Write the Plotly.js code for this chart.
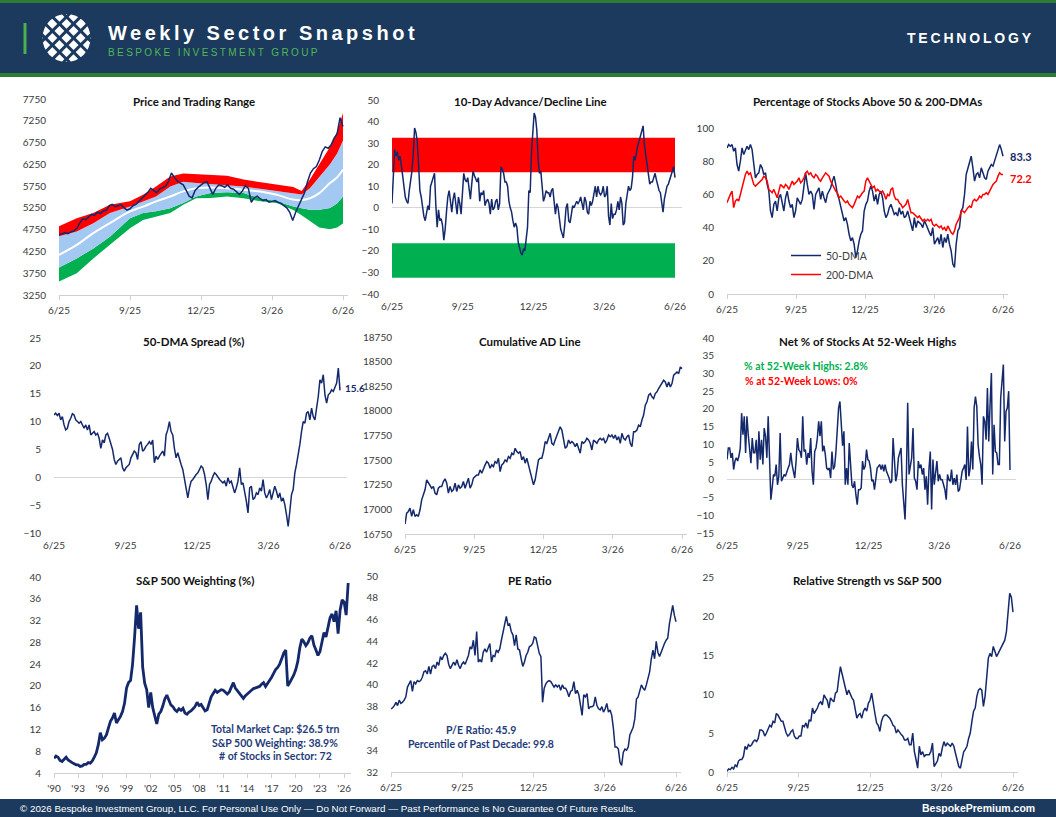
<!DOCTYPE html>
<html><head><meta charset="utf-8">
<script src="https://cdn.plot.ly/plotly-3.0.1.min.js"></script>
<style>html,body{margin:0;padding:0;background:#fff;}#chart{width:1056px;height:817px;}</style>
</head><body><div id="chart"></div>
<script>
// ---------------- DATA ----------------
const monthTicks = [0, 3, 6, 9, 12];
const monthLabels = ['6/25', '9/25', '12/25', '3/26', '6/26'];
const yearTicks = [1990,1993,1996,1999,2002,2005,2008,2011,2014,2017,2020,2023,2026];
const yearLabels = ["'90","'93","'96","'99","'02","'05","'08","'11","'14","'17","'20","'23","'26"];

// Price and trading range
const priceVals = [4630,4650,4680,4660,4700,4720,4780,4900,5000,4980,5050,5100,5080,5150,5120,5180,5200,5300,5330,5280,5300,5320,5250,5200,5230,5300,5330,5400,5450,5520,5600,5700,5650,5600,5680,5720,5750,5850,6050,5950,5870,5820,5780,5650,5520,5480,5650,5720,5780,5830,5850,5700,5560,5700,5780,5760,5720,5780,5700,5680,5620,5560,5640,5760,5700,5380,5480,5520,5460,5420,5440,5380,5400,5420,5380,5360,5300,5250,5150,4960,5150,5300,5450,5600,5850,6050,6150,6200,6350,6550,6650,6620,6700,6850,6950,7320,7120];
const bandMonths = [0,0.75,1.45,2.15,3.0,3.55,4.1,4.7,5.25,5.8,6.4,7.1,7.8,8.5,9.2,9.9,10.25,10.6,11.0,11.45,11.75,12];
const upper2 = [4830,5010,5130,5320,5400,5550,5740,5970,6040,6030,6010,5990,5900,5840,5780,5730,5640,5900,6250,6650,7000,7430];
const upper1 = [4600,4710,4900,5130,5280,5400,5510,5740,5850,5820,5800,5780,5740,5690,5640,5590,5560,5700,5950,6250,6500,6800];
const movAvg = [4170,4400,4670,4900,5170,5280,5400,5510,5630,5700,5720,5700,5665,5625,5550,5440,5430,5470,5590,5820,5950,6130];
const lower1 = [3880,4090,4320,4590,5010,5130,5170,5240,5360,5510,5590,5610,5590,5470,5400,5280,5240,5205,5205,5245,5350,5510];
const lower2 = [3560,3750,4090,4400,4780,4970,5050,5130,5320,5470,5475,5510,5470,5400,5360,5200,5080,4950,4800,4760,4800,4890];

// 10-day A/D line
const adZones = [-32.5, -16.5, 16.5, 32.5];
const adVals = [2,15,27,24,26,22,24,20,14,8,5,3,2,8,13,17,25,37,35,31,20,8,5,-1,-4,-6,-2,1,-1,10,12,14,16,1,-9,-1,-6,-5,-8,-15,-10,-2,5,8,3,-2,4,7,2,-3,5,2,-3,8,16,13,12,14,8,4,11,17,15,13,12,14,3,7,6,8,1,3,4,2,-3,4,-1,0,3,4,-1,2,19,18,16,12,12,10,3,0,-2,-6,-9,-7,-9,-16,-19,-21,-22,-19,-20,-14,-9,8,7,26,35,44,42,36,22,16,17,10,3,5,8,7,7,5,8,9,2,-3,2,0,-5,-10,-12,-14,-8,0,2,-6,-7,-2,1,0,2,3,2,3,5,2,-1,5,3,-2,-3,3,1,3,6,10,5,10,7,6,7,10,5,6,10,-4,-8,2,-5,-3,-3,-1,3,-1,5,2,-8,-7,2,7,10,8,9,14,24,22,26,29,31,33,35,38,29,25,20,15,11,12,12,14,16,13,10,8,7,2,-2,4,7,10,11,13,15,17,19,14];

// % of stocks above 50 & 200 DMA
const pct50 = [88,90,89,90,86,88,78,74,80,88,84,86,89,87,90,87,78,70,72,73,78,76,72,73,66,62,50,46,54,56,50,58,60,54,50,58,62,56,52,54,46,50,58,56,54,57,66,73,66,60,62,60,51,60,62,64,57,62,58,55,60,62,64,68,71,66,60,57,52,48,44,46,42,36,32,34,30,22,26,32,36,38,50,54,56,62,65,62,56,60,54,60,62,58,50,46,48,52,54,51,48,49,47,52,48,50,46,47,50,46,42,38,46,40,44,43,42,40,44,42,39,37,35,40,30,32,34,30,36,28,34,31,36,30,26,18,16,30,38,40,50,52,60,72,76,80,83,76,68,72,73,70,76,73,70,69,74,76,78,77,80,84,87,90,87,83];
const pct200 = [55,58,60,62,52,56,57,56,60,64,68,72,74,72,73,70,66,65,66,67,68,69,71,70,68,63,62,61,63,60,58,62,66,65,64,66,65,63,66,68,66,67,68,70,67,68,70,73,74,72,73,71,70,72,71,69,68,70,72,73,72,71,68,66,64,62,61,58,59,57,56,55,56,54,53,52,54,57,59,58,60,61,62,68,70,68,66,64,65,62,63,62,61,62,60,57,60,59,63,64,59,57,57,55,54,52,53,54,57,53,49,49,48,47,46,47,45,44,45,44,45,44,45,42,41,42,41,40,41,39,40,38,41,39,37,36,38,42,44,46,50,50,49,51,52,53,52,56,57,56,57,59,58,60,60,61,60,62,64,66,67,68,71,73,72,72];
const pct50Last = '83.3', pct200Last = '72.2';

// 50-DMA spread
const spreadVals = [11.2,11.5,11.1,11.5,10.3,10.9,9.4,8.5,8.8,10.0,10.6,11.4,11.2,10.3,10.0,9.7,10.0,9.4,8.8,9.4,8.5,9.4,7.6,7.9,8.2,7.6,7.9,7.0,5.2,6.7,6.2,7.6,7.9,7.0,5.9,5.0,3.2,2.3,2.9,3.2,3.5,1.7,1.1,1.7,2.0,2.3,3.5,4.1,4.7,4.4,3.2,5.9,6.4,4.7,5.0,5.6,5.9,6.4,5.9,6.7,2.6,3.8,3.2,3.8,4.4,4.7,3.8,7.6,8.5,10.0,8.2,7.6,5.2,3.5,4.4,3.2,2.3,1.4,-0.1,-1.9,-3.7,-1.9,-0.7,-0.4,0.2,0.5,0.8,1.4,2.0,1.7,0.5,-1.3,-4.0,-1.3,-0.7,0.2,0.8,0.5,-0.1,-0.4,-0.7,-1.0,-0.7,-1.6,-0.1,-1.0,-0.7,-1.6,-2.8,-1.9,-0.7,1.7,-1.3,-1.0,-2.5,-4.3,-6.4,-1.9,-1.6,-4.0,-3.7,-2.8,-3.1,-1.9,-2.5,-0.4,-2.8,-3.7,-3.1,-2.2,-4.0,-2.5,-1.6,-2.5,-3.7,-2.8,-4.3,-3.7,-4.9,-6.7,-8.8,-6.1,-3.1,-2.2,0.8,2.3,3.8,5.9,8.2,10.0,9.7,11.5,11.8,10.3,12.4,10.9,10.3,12.1,14.5,17.5,16.9,18.4,14.8,13.3,14.8,15.1,15.7,15.4,16.0,16.9,19.6,15.6];
const spreadLast = '15.6';

// Cumulative AD line
const cumAdVals = [16851,16962,16979,17013,16929,16996,16929,16946,16929,16996,17097,17148,17199,17300,17266,17249,17215,17232,17165,17148,17215,17232,17232,17283,17310,17266,17165,17232,17182,17199,17266,17182,17249,17215,17232,17283,17215,17266,17317,17215,17249,17317,17333,17350,17350,17401,17367,17418,17452,17485,17469,17418,17452,17435,17485,17469,17519,17384,17452,17469,17502,17485,17536,17519,17570,17553,17620,17587,17570,17587,17502,17536,17469,17519,17452,17384,17317,17249,17300,17384,17502,17519,17519,17587,17688,17671,17721,17772,17671,17654,17704,17755,17789,17839,17805,17721,17620,17637,17704,17671,17688,17671,17637,17671,17620,17570,17688,17671,17688,17721,17704,17671,17603,17704,17688,17671,17704,17721,17704,17721,17671,17704,17755,17738,17755,17721,17755,17704,17738,17671,17772,17721,17704,17738,17755,17671,17637,17789,17789,17805,17856,17839,17907,17957,18058,18092,18159,18176,18142,18125,18176,18193,18227,18260,18294,18311,18294,18243,18294,18243,18277,18362,18378,18395,18378,18446,18429];

// Net % of stocks at 52-week highs
const netHighVals = [5.7,9.0,9.0,6.2,7.6,2.9,5.3,6.2,5.3,6.7,9.0,18.8,12.7,17.9,7.6,17.9,12.7,8.0,4.7,11.8,7.6,7.6,11.3,2.9,13.7,5.7,11.3,4.3,14.6,12.3,6.2,17.9,4.7,-5.6,-2.3,1.5,1.0,4.3,-1.4,1.0,13.2,-0.4,0.5,1.5,1.0,2.4,3.3,4.3,7.6,4.3,1.9,0.5,5.3,11.8,8.5,8.0,6.2,17.9,8.0,8.5,4.3,7.6,6.2,11.8,2.4,-1.4,8.0,9.0,11.8,16.5,12.3,16.5,8.0,9.6,7.1,3.3,2.9,3.3,0.5,8.0,2.9,3.8,8.0,15.5,20.3,22.1,13.7,9.6,13.7,-1.4,3.3,-1.4,10.4,4.3,-1.4,-2.3,-0.4,-4.2,-7.0,-2.8,-2.8,-2.3,5.3,2.9,3.8,8.5,5.7,5.3,3.3,-0.4,0.0,-2.8,0.0,3.3,3.8,4.3,2.9,4.3,2.4,4.3,2.4,1.5,0.5,-0.9,-0.4,11.8,6.2,-0.4,1.5,6.2,7.6,9.0,-1.4,-6.1,-11.2,0.5,21.7,1.5,4.3,6.2,14.6,0.5,-0.4,-2.8,5.3,3.3,4.3,1.5,3.3,-2.8,1.0,-7.0,2.9,8.0,-8.4,5.7,-1.4,2.4,5.3,-0.4,1.5,0.0,0.0,-1.4,-2.8,-5.6,1.5,0.0,-0.4,2.9,-1.4,0.5,-1.4,1.5,-3.3,-2.8,-0.4,2.4,3.3,4.3,0.0,15.0,1.0,3.3,10.8,2.9,20.3,23.5,20.7,9.9,6.6,4.3,-1.4,17.9,16.5,11.3,25.9,10.8,21.2,30.1,1.5,15.5,8.0,7.6,4.3,4.3,23.1,26.8,32.5,10.8,19.3,20.3,25.0,2.8];
const pctHighs = '2.8%', pctLows = '0%';

// S&P 500 weighting, quarterly from 1990
const weightStartYear = 1990;
const weightVals = [6.7,7.1,6.9,6.3,6.1,6.6,6.9,6.4,6.1,5.9,5.7,5.5,5.5,5.2,5.3,5.6,5.6,5.9,5.8,6.2,6.9,7.7,9.2,11.4,10.1,10.4,11.0,12.2,13.5,14.1,15.0,13.2,13.8,14.4,15.3,16.8,19.6,20.6,21.0,24.0,29.0,34.8,30.5,33.5,23.5,20.5,19.3,16.0,18.8,16.0,14.5,13.0,14.8,15.3,16.3,17.6,18.3,17.2,16.5,16.2,15.6,15.3,15.8,15.5,15.9,15.0,14.8,15.2,15.4,15.8,16.2,17.0,16.4,16.6,16.0,15.4,15.6,16.8,18.0,18.6,19.2,18.8,19.0,19.3,19.2,18.9,18.5,18.9,19.8,20.6,19.6,19.1,18.6,18.0,17.7,18.2,18.6,18.8,19.2,19.5,19.6,19.8,19.9,20.3,20.6,19.9,20.4,21.0,21.6,22.3,23.0,23.4,24.0,25.0,26.0,26.6,20.0,20.6,21.2,22.0,23.0,24.5,27.0,28.6,28.1,27.4,27.9,28.8,29.2,27.5,26.6,25.6,26.3,27.9,29.8,29.0,31.0,32.5,33.2,31.8,33.8,29.6,33.9,35.8,35.4,33.0,38.9];
const sectorStats = ['Total Market Cap: $26.5 trn', 'S&amp;P 500 Weighting: 38.9%', '# of Stocks in Sector: 72'];

// PE ratio
const peVals = [37.8,37.9,38.1,38.4,38.1,38.6,38.3,38.4,38.6,38.9,39.8,40.1,40.4,39.4,40.3,40.1,40.4,40.3,40.4,40.7,41.2,41.3,41.0,41.7,41.0,41.7,41.8,41.5,42.1,41.8,42.6,42.3,42.7,42.9,42.7,41.9,41.5,41.8,42.1,41.8,42.3,41.8,41.5,41.9,42.1,41.9,42.3,42.7,43.5,43.3,44.1,42.7,44.9,42.1,42.3,42.1,43.0,43.3,43.0,43.5,43.8,42.1,42.7,42.6,43.2,43.0,43.3,44.1,44.9,45.6,46.3,45.5,45.6,44.9,44.6,43.6,44.6,43.3,43.2,42.4,41.7,42.1,42.7,43.0,43.5,43.6,43.8,44.4,44.3,43.6,42.9,42.6,38.4,39.7,40.1,40.3,40.4,40.3,40.1,39.8,40.0,39.8,40.0,39.5,40.0,39.7,39.7,39.4,38.9,39.4,39.5,40.3,39.2,39.5,39.1,38.1,37.2,39.1,38.9,39.2,37.8,38.0,38.0,38.1,38.9,38.1,37.8,37.7,38.0,37.5,37.8,38.3,37.5,37.7,37.2,36.0,34.3,34.3,34.1,32.9,32.6,33.8,34.1,34.0,34.3,35.4,35.7,36.1,36.9,38.7,38.9,39.4,40.0,39.7,39.5,40.0,40.6,41.2,42.4,43.2,42.4,44.0,43.0,42.6,43.0,43.5,43.8,44.1,44.3,45.6,46.3,47.3,46.4,45.8];
const peStats = ['P/E Ratio: 45.9', 'Percentile of Past Decade: 99.8'];

// Relative strength vs S&P 500
const rsVals = [0.1,0.4,0.3,0.6,0.4,0.9,0.7,1.4,1.6,1.6,2.0,3.3,2.9,3.5,3.3,3.5,3.9,4.1,3.9,4.3,5.4,5.4,5.2,4.6,5.0,5.6,6.0,5.8,6.5,6.3,7.5,7.3,6.9,6.5,6.5,5.6,5.0,4.6,4.8,5.2,5.4,4.6,4.3,4.3,4.6,4.6,6.0,5.8,6.3,5.6,6.7,6.5,8.2,7.5,7.8,8.2,8.8,9.0,8.6,9.9,9.5,9.2,8.2,9.5,9.2,9.0,10.1,10.3,12.0,13.5,12.6,11.6,10.5,9.9,10.5,9.9,9.5,9.2,8.0,6.9,7.3,7.5,6.9,7.8,8.2,7.8,8.8,9.2,10.1,9.0,7.5,6.3,6.0,5.2,6.5,7.1,7.3,7.3,7.1,6.9,6.5,6.0,5.8,5.0,5.4,5.0,4.8,4.6,4.1,4.1,4.3,3.5,3.5,5.0,2.6,1.6,0.5,3.3,2.2,2.6,2.0,2.2,2.2,2.2,2.6,3.7,0.7,1.1,1.4,2.4,2.0,3.1,3.9,3.3,3.7,3.5,3.3,3.7,3.3,2.4,1.6,0.7,0.5,1.8,2.6,2.9,3.3,4.3,5.0,6.5,7.8,8.2,9.7,10.5,10.7,10.5,8.4,9.7,12.6,14.6,15.2,14.8,16.1,15.4,14.8,15.2,15.6,16.1,16.5,16.9,18.0,20.1,22.9,22.4,20.5];

// ---------------- LAYOUT HELPERS ----------------
const W = 1056, H = 817;
const px = x => x / W, py = y => 1 - y / H;
const NAVY = '#14296b', RED = '#ff0000', GREEN = '#00b050', LBLUE = '#a3c8f2';
const HEADER = '#1b3a5e', HGREEN = '#2f7d34';
const FONT = 'Lato, "Open Sans", sans-serif';
const tickFont = {family: FONT, size: 10, color: '#3a3a3a'};
const monthPos = n => Array.from({length: n}, (_, i) => i * 12 / (n - 1));

function xTime(p0, p12, r1, withLine) {
  const s = (p12 - p0) / 12;
  return {
    domain: [px(p0), px(p0 + r1 * s)], range: [0, r1],
    tickmode: 'array', tickvals: monthTicks, ticktext: monthLabels,
    tickfont: tickFont, showgrid: false, zeroline: false,
    showline: !!withLine, linecolor: '#d0d0d0', linewidth: 1,
    ticks: withLine ? 'outside' : '', ticklen: 4, tickcolor: '#d0d0d0',
    ticklabelstandoff: withLine ? 2 : 5, fixedrange: true
  };
}
function yLin(top, bottom, lo, hi, dt, zero) {
  return {
    domain: [py(bottom), py(top)], range: [lo, hi], tick0: lo, dtick: dt,
    tickfont: tickFont, tickformat: 'd', showgrid: false, zeroline: !!zero,
    zerolinecolor: '#d6d6d6', zerolinewidth: 1,
    showline: false, ticks: '', ticklabelstandoff: 12, fixedrange: true
  };
}

const layout = {
  width: W, height: H, margin: {l: 0, r: 0, t: 0, b: 0},
  paper_bgcolor: '#ffffff', plot_bgcolor: 'rgba(0,0,0,0)',
  font: {family: FONT, color: '#222'},
  showlegend: true,
  legend: {x: px(786), y: py(241), xanchor: 'left', yanchor: 'top', traceorder: 'normal',
           bgcolor: 'rgba(0,0,0,0)', font: {family: FONT, size: 10.5, color: '#404040'},
           itemwidth: 30, tracegroupgap: 0},
  xaxis:  xTime(59, 343, 12.2, true),   yaxis:  yLin(99, 295, 3250, 7750, 500),
  xaxis2: xTime(392, 675, 12.3, false), yaxis2: yLin(100, 294, -40, 50, 10, true),
  xaxis3: xTime(727, 1003, 12.2, true), yaxis3: yLin(128, 294, 0, 100, 20),
  xaxis4: xTime(54, 340, 12.3, false),  yaxis4: yLin(338, 533, -10, 25, 5, true),
  xaxis5: xTime(405, 682, 12.2, true),  yaxis5: yLin(337, 534, 16750, 18750, 250),
  xaxis6: xTime(727, 1010, 12.25, false), yaxis6: yLin(338, 533, -15, 40, 5, true),
  xaxis7: {domain: [px(54), px(351)], range: [1990, 2026.85], tickmode: 'array',
           tickvals: yearTicks, ticktext: yearLabels, tickfont: tickFont, showgrid: false,
           zeroline: false, showline: true, linecolor: '#d0d0d0', ticks: 'outside',
           ticklen: 4, tickcolor: '#d0d0d0', ticklabelstandoff: 2, fixedrange: true},
  yaxis7: yLin(577, 773, 4, 40, 4),
  xaxis8: xTime(391, 676, 12.2, true),  yaxis8: yLin(576, 772, 32, 50, 2),
  xaxis9: xTime(727, 1013, 12.2, true), yaxis9: yLin(577, 772, 0, 25, 5),
  shapes: [], annotations: []
};
for (let i = 1; i <= 9; i++) {
  const s = i === 1 ? '' : String(i);
  layout['xaxis' + s].anchor = 'y' + s;
  layout['yaxis' + s].anchor = 'x' + s;
}

// ---------------- TRACES ----------------
const traces = [];
const line = (x, y, xa, ya, color, width, extra) => Object.assign({
  type: 'scatter', mode: 'lines', x, y, xaxis: xa, yaxis: ya,
  line: {color, width}, hoverinfo: 'skip', showlegend: false
}, extra || {});
const band = (y, xa, ya, color, x) => ({
  type: 'scatter', mode: 'lines', x: x, y: y, xaxis: xa, yaxis: ya,
  line: {width: 0, color: color || 'rgba(0,0,0,0)'}, fill: color ? 'tonexty' : 'none',
  fillcolor: color, hoverinfo: 'skip', showlegend: false
});

// Panel 1
traces.push(band(lower2, 'x', 'y', null, bandMonths));
traces.push(band(lower1, 'x', 'y', GREEN, bandMonths));
traces.push(band(upper1, 'x', 'y', LBLUE, bandMonths));
traces.push(band(upper2, 'x', 'y', RED, bandMonths));
traces.push(line(bandMonths, movAvg, 'x', 'y', '#ffffff', 2, {line: {color: '#ffffff', width: 2, shape: 'spline'}}));
traces.push(line(monthPos(priceVals.length), priceVals, 'x', 'y', NAVY, 1.5));

// Panel 2
const zx = [0, 12];
traces.push(band([adZones[0], adZones[0]], 'x2', 'y2', null, zx));
traces.push(band([adZones[1], adZones[1]], 'x2', 'y2', GREEN, zx));
traces.push(band([adZones[2], adZones[2]], 'x2', 'y2', null, zx));
traces.push(band([adZones[3], adZones[3]], 'x2', 'y2', RED, zx));
traces.push(line(monthPos(adVals.length), adVals, 'x2', 'y2', NAVY, 1.5));

// Panel 3
traces.push(line(monthPos(pct50.length), pct50, 'x3', 'y3', NAVY, 1.5, {name: '50-DMA', showlegend: true}));
traces.push(line(monthPos(pct200.length), pct200, 'x3', 'y3', RED, 1.5, {name: '200-DMA', showlegend: true}));

// Panels 4-9
traces.push(line(monthPos(spreadVals.length), spreadVals, 'x4', 'y4', NAVY, 1.5));
traces.push(line(monthPos(cumAdVals.length), cumAdVals, 'x5', 'y5', NAVY, 1.5));
traces.push(line(monthPos(netHighVals.length), netHighVals, 'x6', 'y6', NAVY, 1.5));
traces.push(line(weightVals.map((_, i) => weightStartYear + i * 0.25), weightVals, 'x7', 'y7', NAVY, 2.8));
traces.push(line(monthPos(peVals.length), peVals, 'x8', 'y8', NAVY, 1.5));
traces.push(line(monthPos(rsVals.length), rsVals, 'x9', 'y9', NAVY, 1.5));

// ---------------- ANNOTATIONS ----------------
function ann(text, x, y, opts) {
  layout.annotations.push(Object.assign({
    text, x: px(x), y: py(y), xref: 'paper', yref: 'paper',
    showarrow: false, xanchor: 'center', yanchor: 'middle',
    font: {family: FONT, size: 11.5, color: '#111', weight: 'bold'}
  }, opts || {}));
}
const titles = [
  ['Price and Trading Range', 194, 102], ['10-Day Advance/Decline Line', 530, 102],
  ['Percentage of Stocks Above 50 &amp; 200-DMAs', 867, 102],
  ['50-DMA Spread (%)', 194, 341], ['Cumulative AD Line', 530, 341],
  ['Net % of Stocks At 52-Week Highs', 867, 341],
  ['S&amp;P 500 Weighting (%)', 195, 580], ['PE Ratio', 530, 580],
  ['Relative Strength vs S&amp;P 500', 867, 580]
];
titles.forEach(t => ann(t[0], t[1], t[2]));

const bold = (size, color) => ({family: FONT, size, color, weight: 'bold'});
ann(pct50Last, 1008, 156, {xanchor: 'left', font: bold(11, NAVY)});
ann(pct200Last, 1008, 178, {xanchor: 'left', font: bold(11, RED)});
ann(spreadLast, 343, 388, {xanchor: 'left', font: bold(10, NAVY)});
ann('% at 52-Week Highs: ' + pctHighs, 742, 366, {xanchor: 'left', font: bold(10.5, GREEN)});
ann('% at 52-Week Lows: ' + pctLows, 743, 381, {xanchor: 'left', font: bold(10.5, RED)});
sectorStats.forEach((t, i) => ann(t, 275, 729 + i * 13.5, {font: bold(10.5, '#1f3c7a')}));
peStats.forEach((t, i) => ann(t, 481, 730 + i * 14, {font: bold(10.5, '#1f3c7a')}));

// Header & footer
const rect = (x0, y0, x1, y1, color) => layout.shapes.push({type: 'rect', xref: 'paper', yref: 'paper',
  x0: px(x0), x1: px(x1), y0: py(y1), y1: py(y0), fillcolor: color, line: {width: 0}, layer: 'above'});
rect(0, 0, W, 3, HGREEN);
rect(0, 3, W, 73, HEADER);
rect(0, 73, W, 77, HGREEN);
rect(23.5, 23, 26.5, 54, '#4caf50');
rect(0, 799, W, H, HEADER);
// logo: white disc crossed by navy diagonal cuts
const cx = 66.5, cy = 38, r = 24;
layout.shapes.push({type: 'circle', xref: 'paper', yref: 'paper', x0: px(cx - r), x1: px(cx + r),
  y0: py(cy + r), y1: py(cy - r), fillcolor: '#ffffff', line: {width: 0}});
[-15, -5, 5, 15].forEach(o => {
  [[1, 1], [1, -1]].forEach(d => {
    const dx = d[0] / Math.SQRT2, dy = d[1] / Math.SQRT2;
    const nx = -dy, ny = dx;
    const h = Math.sqrt(r * r - o * o) + 1;
    const mx = cx + o * nx, my = cy + o * ny;
    layout.shapes.push({type: 'line', xref: 'paper', yref: 'paper',
      x0: px(mx - h * dx), y0: py(my - h * dy), x1: px(mx + h * dx), y1: py(my + h * dy),
      line: {color: HEADER, width: 3}});
  });
});
ann('<span style="letter-spacing:3.5px">Weekly Sector Snapshot</span>', 106, 33,
    {xanchor: 'left', font: {family: '"Liberation Sans", Arial, sans-serif', size: 20, color: '#ffffff', weight: 'bold'}});
ann('<span style="letter-spacing:2.4px">BESPOKE INVESTMENT GROUP</span>', 106, 52,
    {xanchor: 'left', font: {family: '"Liberation Sans", Arial, sans-serif', size: 10, color: '#52b656'}});
ann('<span style="letter-spacing:2.8px">TECHNOLOGY</span>', 1036, 38,
    {xanchor: 'right', font: {family: '"Liberation Sans", Arial, sans-serif', size: 14, color: '#ffffff', weight: 'bold'}});
ann('© 2026 Bespoke Investment Group, LLC. For Personal Use Only — Do Not Forward — Past Performance Is No Guarantee Of Future Results.',
    18, 808, {xanchor: 'left', font: {family: '"Liberation Sans", Arial, sans-serif', size: 9.8, color: '#ffffff'}});
ann('BespokePremium.com', 1037, 808, {xanchor: 'right', font: {family: '"Liberation Sans", Arial, sans-serif', size: 10.5, color: '#ffffff', weight: 'bold'}});

Plotly.newPlot('chart', traces, layout, {displayModeBar: false, staticPlot: true});
</script></body></html>
